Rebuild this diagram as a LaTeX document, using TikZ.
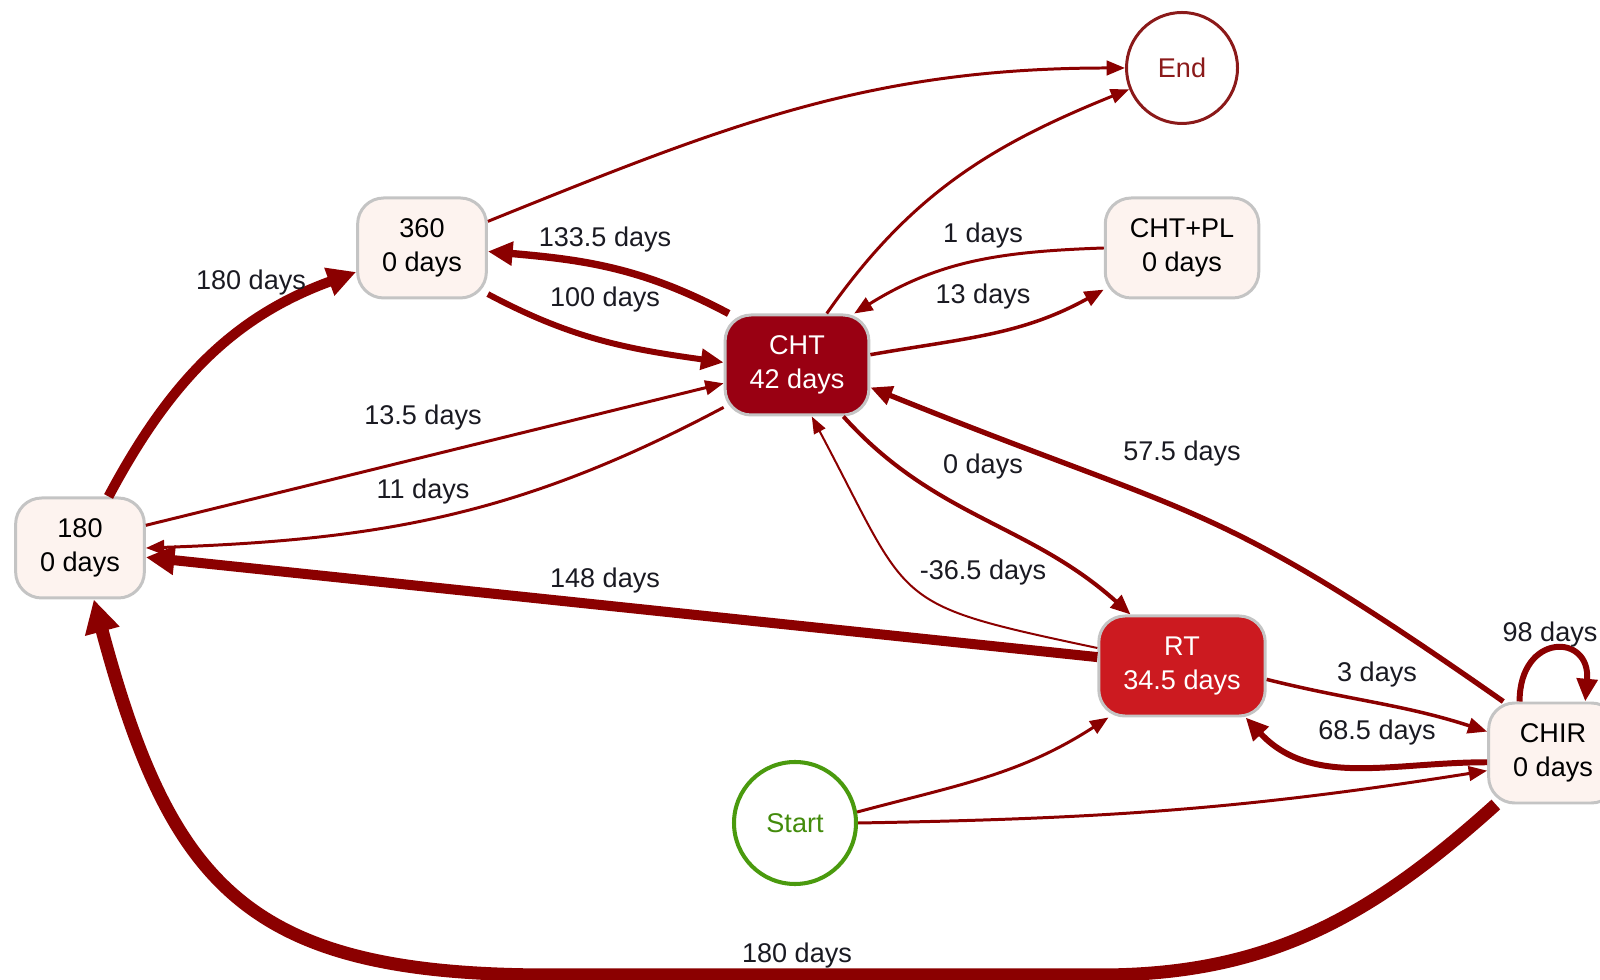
\documentclass[tikz,border=0pt]{standalone}
\usepackage{fontspec}
\setmainfont{Liberation Sans}
\usepackage{tikz}
\usetikzlibrary{positioning,arrows.meta}
\usepackage{xcolor}

\definecolor{edgered}{HTML}{8B0000}
\definecolor{chtfill}{HTML}{990012}
\definecolor{rtfill}{HTML}{CC1A20}
\definecolor{boxfill}{HTML}{FDF3EF}
\definecolor{boxline}{HTML}{C4C4C4}
\definecolor{endline}{HTML}{8B1A1A}
\definecolor{startgreen}{HTML}{4A9A0E}
\definecolor{labeltext}{HTML}{1A1A22}

\newcommand{\diafont}{\fontsize{7.7}{9.7}\selectfont}

\tikzset{
  state/.style={draw=boxline, line width=0.85pt, fill=boxfill, rounded corners=0.26cm,
    inner xsep=0.245cm, minimum width=1.27cm, minimum height=1.0cm, align=center, font=\diafont},
  terminal/.style={circle, draw, line width=0.85pt, fill=white, inner sep=0pt, font=\diafont},
  flow/.style={draw=edgered, ->, line width=#1},
  flow/.default=0.85pt,
  lbl/.style={text=labeltext, inner sep=0pt, font=\diafont}
}

\begin{document}
\begin{tikzpicture}[>={Triangle[length=4pt 1.45,width=2.5pt 1.9]}]
    \useasboundingbox (0,0) rectangle (16,9.79);

    % States
    \node[state] (n360) at (4.22,7.31) {360\\0 days};
    \node[state] (n180) at (0.80,4.31) {180\\0 days};
    \node[state] (chtpl) at (11.82,7.31) {CHT+PL\\0 days};
    \node[state, fill=chtfill, text=white] (cht) at (7.97,6.14) {CHT\\42 days};
    \node[state, fill=rtfill, text=white] (rt) at (11.82,3.13) {RT\\34.5 days};
    \node[state] (chir) at (15.53,2.26) {CHIR\\0 days};
    \node[terminal, draw=endline, text=endline, minimum size=1.11cm] (End) at (11.82,9.11) {End};
    \node[terminal, draw=startgreen, text=startgreen!90!black, line width=1.15pt, minimum size=1.22cm] (Start) at (7.95,1.56) {Start};

    % Transitions
    \draw[flow] (n360.22) to[out=22,in=180] (End.180);
    \draw[flow] (cht.60) to[out=55,in=202] (End.202);
    \draw[flow=2.1pt] (cht.143) to[out=152,in=-5] (n360.-3);
    \draw[flow=1.7pt] (n360.-35) to[out=-28,in=172] (cht.178);
    \draw[flow] (chtpl.180) to[out=182,in=32] (cht.42);
    \draw[flow=1pt] (cht.8) to[out=10,in=209] (chtpl.208);
    \draw[flow] (n180.19) -- (cht.194);
    \draw[flow] (cht.210) to[out=208,in=2] (n180.0);
    \draw[flow=2.85pt] (rt.174) -- (n180.-8);
    \draw[flow=2.85pt] (n180.61) to[out=62,in=200] (n360.200);
    \draw[flow=1.15pt] (cht.-48) to[out=-48,in=138] (rt.135);
    \draw[flow=0.57pt] (rt.168) to[out=168,in=-62,looseness=1.5] (cht.-74);
    \draw[flow=1.5pt] (chir.134) to[out=145,in=-22,looseness=1.3] (cht.-17);
    \draw[flow=1pt] (rt.-9) to[out=-14,in=162] (chir.162);
    \draw[flow=1.7pt] (chir.188) to[out=180,in=-47] (rt.-39);
    \draw[flow=1.7pt] (chir.123) to[out=90,in=85,looseness=2.7] (chir.58);
    \draw[flow] (Start.10) to[out=15,in=213] (rt.215);
    \draw[flow] (Start.0) to[out=1,in=189] (chir.195);

    % Long way back along the bottom
    \coordinate (botR) at (11.00,0.04);
    \coordinate (botL) at (5.50,0.04);
    \draw[flow=3.7pt] (chir.222) to[out=222,in=0] (botR) -- (botL)
        to[out=180,in=-75,looseness=1.3] (n180.-75);

    % Edge labels
    \node[lbl] (l180up) at (2.51,6.96) {180 days};
    \node[lbl] (l133) at (6.05,7.39) {133.5 days};
    \node[lbl] (l100) at (6.05,6.79) {100 days};
    \node[lbl] (l1) at (9.83,7.43) {1 days};
    \node[lbl] (l13) at (9.83,6.82) {13 days};
    \node[lbl] (l135) at (4.23,5.61) {13.5 days};
    \node[lbl] (l11) at (4.23,4.87) {11 days};
    \node[lbl] (l148) at (6.05,3.98) {148 days};
    \node[lbl] (l0) at (9.83,5.12) {0 days};
    \node[lbl] (l575) at (11.82,5.25) {57.5 days};
    \node[lbl] (l365) at (9.83,4.06) {-36.5 days};
    \node[lbl] (l3) at (13.77,3.04) {3 days};
    \node[lbl] (l685) at (13.77,2.46) {68.5 days};
    \node[lbl] (l98) at (15.50,3.44) {98 days};
    \node[lbl] (l180low) at (7.97,0.23) {180 days};
\end{tikzpicture}
\end{document}
